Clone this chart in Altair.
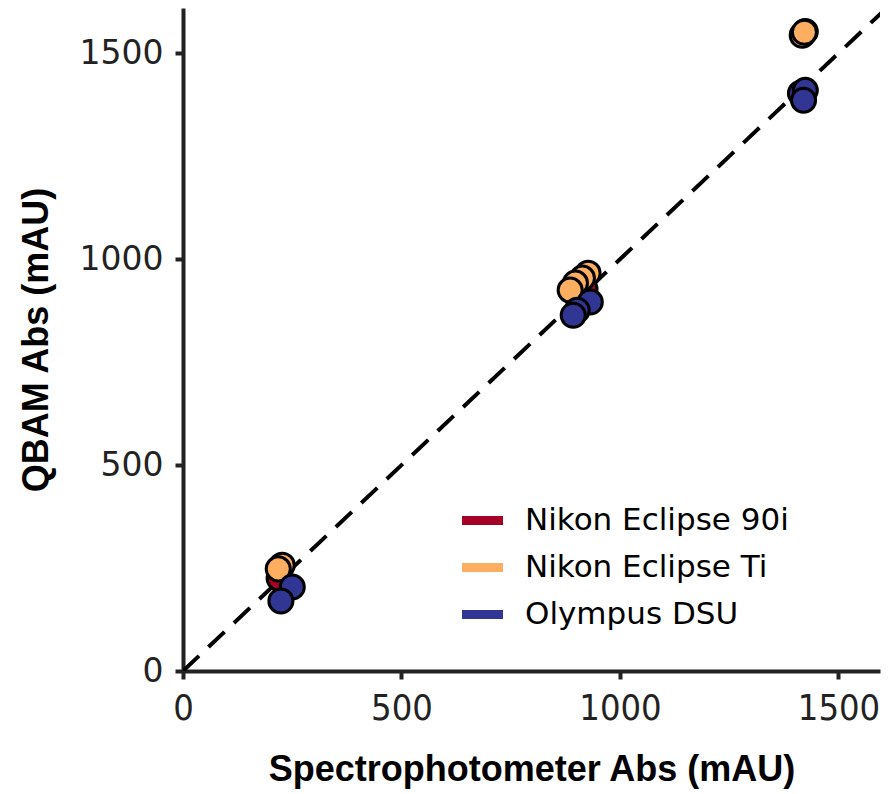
import altair as alt
import pandas as pd

# Measured absorbance (mAU): spectrophotometer reference vs. QBAM, per microscope
nikon90i_x = [220, 920, 1424]
nikon90i_y = [225, 927, 1553]

nikonti_x = [227, 218, 927, 914, 898, 886, 1417, 1422]
nikonti_y = [257, 248, 966, 954, 942, 925, 1544, 1551]

olympus_x = [250, 224, 932, 902, 893, 1413, 1424, 1420]
olympus_y = [204, 170, 896, 876, 864, 1403, 1410, 1386]

series_names = ["Nikon Eclipse 90i", "Nikon Eclipse Ti", "Olympus DSU"]
series_colors = ["#A50026", "#FDAE61", "#313695"]

identity_x = [0, 1610]
identity_y = [0, 1610]

x_ticks = [0, 500, 1000, 1500]
y_ticks = [0, 500, 1000, 1500]

frames = []
for name, xs, ys in zip(series_names,
                        [nikon90i_x, nikonti_x, olympus_x],
                        [nikon90i_y, nikonti_y, olympus_y]):
    frames.append(pd.DataFrame({"spec": xs, "qbam": ys, "scope": name}))
points_df = pd.concat(frames, ignore_index=True)
points_df["idx"] = range(len(points_df))
line_df = pd.DataFrame({"spec": identity_x, "qbam": identity_y})

axis_common = dict(
    domainColor="#222222", domainWidth=4,
    tickColor="#222222", tickWidth=4, tickSize=8,
    grid=False, labelColor="#222222", format="d", labelFlush=False,
    titleColor="black", titleFont="Liberation Sans", titleFontWeight="bold",
    titleFontSize=36,
)

x_enc = alt.X("spec:Q", scale=alt.Scale(domain=[0, 1595], nice=False, zero=True),
              axis=alt.Axis(title="Spectrophotometer Abs (mAU)", values=x_ticks,
                            labelFont="DejaVu Sans Condensed", labelFontSize=36,
                            labelPadding=12, titlePadding=26, **axis_common))
y_enc = alt.Y("qbam:Q", scale=alt.Scale(domain=[0, 1610], nice=False, zero=True),
              axis=alt.Axis(title="QBAM Abs (mAU)", values=y_ticks,
                            labelFont="DejaVu Sans", labelFontSize=33,
                            labelPadding=12, titlePadding=24, **axis_common))

identity = alt.Chart(line_df).mark_line(
    color="black", strokeWidth=4, strokeDash=[22, 13], clip=True
).encode(x=x_enc, y=y_enc)

points = alt.Chart(points_df).mark_circle(
    size=580, opacity=1, stroke="black", strokeWidth=3
).encode(
    x="spec:Q",
    y="qbam:Q",
    color=alt.Color(
        "scope:N",
        scale=alt.Scale(domain=series_names, range=series_colors),
        legend=alt.Legend(
            title=None, orient="none", legendX=279, legendY=492,
            symbolType="M-1,-0.22L1,-0.22L1,0.22L-1,0.22Z",
            symbolSize=1681, symbolStrokeWidth=0, symbolOpacity=1,
            labelFont="DejaVu Sans", labelFontSize=31, labelColor="black",
            labelOffset=22, rowPadding=11, labelLimit=500,
        ),
    ),
    order=alt.Order("idx:Q"),
)

chart = alt.layer(identity, points).properties(
    width=697, height=663,
    autosize=alt.AutoSizeParams(type="none"),
    padding={"left": 183, "top": 8, "right": 14, "bottom": 123},
    background="white",
).configure_view(stroke=None)

chart.save("out.html", embed_options={"renderer": "svg", "actions": False})
